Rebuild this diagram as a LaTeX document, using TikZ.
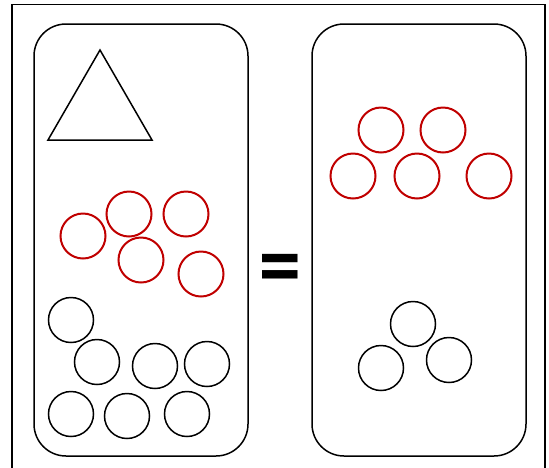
\documentclass[tikz,border=0pt]{standalone}
\usepackage{fontspec}
\setmainfont{DejaVu Sans}
\definecolor{redc}{RGB}{192,0,0}
\tikzset{
  box/.style={draw=black, line width=1.5pt, rounded corners=32pt},
  rc/.style={circle, draw=redc, line width=2pt, minimum size=45pt, inner sep=0pt},
  bc/.style={circle, draw=black, line width=1.5pt, minimum size=45pt, inner sep=0pt},
}
\begin{document}
\begin{tikzpicture}[x=1pt,y=-1pt]
\useasboundingbox (0,0) rectangle (549,467);
\begin{scope}
\clip (0,0) rectangle (549,467);
\draw[line width=1.5pt] (12,4.5) rectangle (545,480);
\end{scope}
\draw[box] (34,24) rectangle (248,456);
\draw[box] (312,24) rectangle (526,456);
\draw[line width=1.5pt, line join=miter] (100,50) -- (152,140) -- (48,140) -- cycle;
% left red
\node[rc] (l1) at (83,236) {};
\node[rc] (l2) at (129,214) {};
\node[rc] (l3) at (186,214) {};
\node[rc] (l4) at (141,260) {};
\node[rc] (l5) at (201,274) {};
% left black
\node[bc] (b1) at (71,320) {};
\node[bc] (b2) at (97,362) {};
\node[bc] (b3) at (155,366) {};
\node[bc] (b4) at (207,364) {};
\node[bc] (b5) at (71,414) {};
\node[bc] (b6) at (127,416) {};
\node[bc] (b7) at (187,414) {};
% right red
\node[rc] (r1) at (381,130) {};
\node[rc] (r2) at (443,130) {};
\node[rc] (r3) at (353,176) {};
\node[rc] (r4) at (417,176) {};
\node[rc] (r5) at (489,176) {};
% right black
\node[bc] (c1) at (413,324) {};
\node[bc] (c2) at (449,360) {};
\node[bc] (c3) at (381,368) {};
\node[inner sep=0pt, xscale=1.05, yscale=1.35, font=\fontsize{54}{54}\selectfont\bfseries] (eq) at (280.5,272) {=};
\end{tikzpicture}
\end{document}
